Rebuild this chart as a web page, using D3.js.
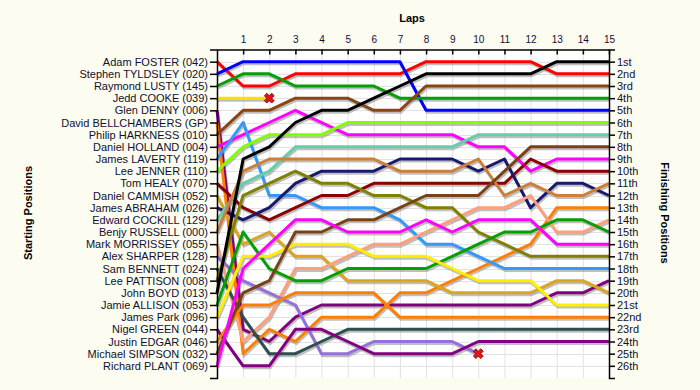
<!DOCTYPE html>
<html>
<head>
<meta charset="utf-8">
<script src="https://cdn.jsdelivr.net/npm/d3@7"></script>
<style>
  body { margin: 0; background: #fcfcf0; }
  text { font-family: "Liberation Sans", Arial, sans-serif; }
</style>
</head>
<body>
<div id="container"></div>
<script>
// Data
const laps = [1, 2, 3, 4, 5, 6, 7, 8, 9, 10, 11, 12, 13, 14, 15];

const drivers = [
  "Adam FOSTER (042)", "Stephen TYLDSLEY (020)", "Raymond LUSTY (145)", "Jedd COOKE (039)",
  "Glen DENNY (006)", "David BELLCHAMBERS (GP)", "Philip HARKNESS (010)", "Daniel HOLLAND (004)",
  "James LAVERTY (119)", "Lee JENNER (110)", "Tom HEALY (070)", "Daniel CAMMISH (052)",
  "James ABRAHAM (026)", "Edward COCKILL (129)", "Benjy RUSSELL (000)", "Mark MORRISSEY (055)",
  "Alex SHARPER (128)", "Sam BENNETT (024)", "Lee PATTISON (008)", "John BOYD (013)",
  "Jamie ALLISON (053)", "James Park (096)", "Nigel GREEN (044)", "Justin EDGAR (046)",
  "Michael SIMPSON (032)", "Richard PLANT (069)"
];

const finishLabels = [
  "1st", "2nd", "3rd", "4th", "5th", "6th", "7th", "8th", "9th", "10th", "11th", "12th", "13th",
  "14th", "15th", "16th", "17th", "18th", "19th", "20th", "21st", "22nd", "23rd", "24th", "25th", "26th"
];

// position of each driver at start (lap 0) then after laps 1..15
const positions = [
  [1, 3, 3, 2, 2, 2, 2, 2, 1, 1, 1, 1, 1, 2, 2, 2],
  [2, 1, 1, 1, 1, 1, 1, 1, 5, 5, 5, 5, 5, 5, 5, 5],
  [3, 2, 2, 3, 3, 3, 3, 4, 4, 4, 4, 4, 4, 4, 4, 4],
  [4, 4, 4],
  [5, 23, 24, 22, 21, 21, 21, 21, 21, 21, 21, 21, 21, 20, 20, 19],
  [6, 25, 23, 24, 22, 22, 22, 20, 20, 19, 18, 17, 16, 13, 13, 13],
  [7, 5, 5, 4, 4, 4, 5, 5, 3, 3, 3, 3, 3, 3, 3, 3],
  [8, 7, 6, 5, 6, 7, 7, 7, 7, 7, 8, 8, 10, 9, 9, 9],
  [9, 6, 12, 12, 13, 13, 13, 14, 16, 16, 17, 18, 18, 18, 18, 18],
  [10, 8, 7, 7, 7, 6, 6, 6, 6, 6, 6, 6, 6, 6, 6, 6],
  [11, 13, 14, 13, 12, 12, 11, 11, 11, 11, 11, 11, 9, 10, 10, 10],
  [12, 16, 15, 17, 17, 19, 19, 19, 19, 20, 20, 20, 20, 19, 19, 20],
  [13, 14, 13, 11, 10, 10, 10, 9, 9, 9, 10, 9, 13, 11, 11, 12],
  [14, 11, 10, 8, 8, 8, 8, 8, 8, 8, 7, 7, 7, 7, 7, 7],
  [15, 10, 9, 9, 9, 9, 9, 10, 10, 10, 9, 12, 11, 12, 12, 11],
  [16, 24, 22, 18, 18, 17, 16, 16, 15, 14, 13, 13, 12, 15, 15, 14],
  [17, 19, 20, 21, 25, 25, 24, 24, 24, 24, 25],
  [18, 22, 25, 25, 24, 23, 23, 23, 23, 23, 23, 23, 23, 23, 23, 23],
  [19, 12, 11, 10, 11, 11, 12, 12, 13, 13, 15, 16, 17, 17, 17, 17],
  [20, 9, 8, 6, 5, 5, 4, 3, 2, 2, 2, 2, 2, 1, 1, 1],
  [21, 15, 18, 19, 19, 18, 18, 18, 18, 17, 16, 15, 15, 14, 14, 15],
  [22, 17, 17, 16, 16, 16, 17, 17, 17, 18, 19, 19, 19, 21, 21, 21],
  [23, 26, 26, 23, 23, 24, 25, 25, 25, 25, 24, 24, 24, 24, 24, 24],
  [24, 21, 21, 20, 20, 20, 20, 22, 22, 22, 22, 22, 22, 22, 22, 22],
  [25, 20, 19, 15, 15, 14, 14, 13, 12, 12, 12, 10, 8, 8, 8, 8],
  [26, 18, 16, 14, 14, 15, 15, 15, 14, 15, 14, 14, 14, 16, 16, 16]
];

// drivers that did not finish (index into drivers)
const retired = [3, 16];

// Styles
const driverColors = [
  "#ff0000", "#0000ff", "#00a000", "#ffe000", "#800080", "#ff8000", "#8b4513", "#ff00ff",
  "#3399ff", "#80ff00", "#8b0000", "#daa520", "#191970", "#66cdaa", "#cd7f3a", "#ffa07a",
  "#9370db", "#2f4f4f", "#808000", "#000000", "#00a000", "#ffee00", "#800080", "#ff8000",
  "#7a4214", "#ff00ff"
];

// Define constants
const width = 700,
  height = 390;

// Create SVG
const svg = d3
  .select("div#container")
  .append("svg")
  .attr("width", width)
  .attr("height", height);

// Set Scales
const x = d3.scaleLinear().domain([0, 15]).range([217, 609]);
const y = d3.scaleLinear().domain([0, 27]).range([49.5, 378]);
const positionTicks = d3.range(1, 27);

// Plot background
svg.append("rect")
  .attr("x", x(0))
  .attr("y", y(0))
  .attr("width", x(15) - x(0))
  .attr("height", y(27) - y(0))
  .attr("fill", "#ffffff");

// Grid
const grid = svg.append("g").attr("stroke", "#e2e2e2").attr("stroke-width", 1);
grid.selectAll("line.v")
  .data(laps)
  .enter()
  .append("line")
  .attr("class", "v")
  .attr("x1", (d) => x(d) + 0.5)
  .attr("x2", (d) => x(d) + 0.5)
  .attr("y1", y(0))
  .attr("y2", y(27));
grid.selectAll("line.h")
  .data(positionTicks)
  .enter()
  .append("line")
  .attr("class", "h")
  .attr("x1", x(0))
  .attr("x2", x(15))
  .attr("y1", (d) => Math.round(y(d)) + 0.5)
  .attr("y2", (d) => Math.round(y(d)) + 0.5);

// Lines
const line = d3.line()
  .x((d, i) => x(i))
  .y((d) => y(d));

svg.append("g")
  .attr("transform", "translate(1,2)")
  .selectAll("path")
  .data(positions)
  .enter()
  .append("path")
  .attr("d", line)
  .attr("fill", "none")
  .attr("stroke", "#8a8a8a")
  .attr("stroke-opacity", 0.55)
  .attr("stroke-width", 3);

svg.append("g")
  .selectAll("path")
  .data(positions)
  .enter()
  .append("path")
  .attr("d", line)
  .attr("fill", "none")
  .attr("stroke", (d, i) => driverColors[i])
  .attr("stroke-width", 3)
  .attr("stroke-linejoin", "round");

// Retirement markers
svg.append("g")
  .selectAll("path")
  .data(retired)
  .enter()
  .append("path")
  .attr("d", d3.symbol(d3.symbolCross).size(60))
  .attr("transform", (d) => {
    const p = positions[d];
    return `translate(${x(p.length - 1)},${y(p[p.length - 1])}) rotate(45)`;
  })
  .attr("fill", "#ee1111")
  .attr("stroke", "#700000")
  .attr("stroke-width", 0.8);

// Axes
const leftAxis = d3.axisLeft(y)
  .tickValues(positionTicks)
  .tickFormat((d) => drivers[d - 1])
  .tickSize(7)
  .tickPadding(2);
const rightAxis = d3.axisRight(y)
  .tickValues(positionTicks)
  .tickFormat((d) => finishLabels[d - 1])
  .tickSize(6)
  .tickPadding(2);
const topAxis = d3.axisTop(x)
  .tickValues(laps)
  .tickSize(-5)
  .tickSizeOuter(0)
  .tickPadding(7);

const styleAxis = (g, size) => {
  g.selectAll("path, line").attr("stroke", "#000").attr("stroke-width", 1.5);
  g.selectAll("text")
    .attr("fill", "#101030")
    .style("font-size", size)
    .style("font-family", "'Liberation Sans', Arial, sans-serif");
};

svg.append("g")
  .attr("transform", `translate(${x(0)},0)`)
  .call(leftAxis)
  .call((g) => styleAxis(g, "11px"));

svg.append("g")
  .attr("transform", `translate(${x(15)},0)`)
  .call(rightAxis)
  .call((g) => styleAxis(g, "11px"));

svg.append("g")
  .attr("transform", `translate(0,${y(0)})`)
  .call(topAxis)
  .call((g) => styleAxis(g, "10px"));

// Titles
svg.append("text")
  .attr("x", 412)
  .attr("y", 22)
  .attr("text-anchor", "middle")
  .style("font-size", "11px")
  .style("font-weight", "bold")
  .text("Laps");

svg.append("text")
  .attr("transform", "translate(32,213) rotate(-90)")
  .attr("text-anchor", "middle")
  .style("font-size", "11px")
  .style("font-weight", "bold")
  .text("Starting Positions");

svg.append("text")
  .attr("transform", "translate(661,213) rotate(90)")
  .attr("text-anchor", "middle")
  .style("font-size", "11px")
  .style("font-weight", "bold")
  .text("Finishing Positions");
</script>
</body>
</html>
